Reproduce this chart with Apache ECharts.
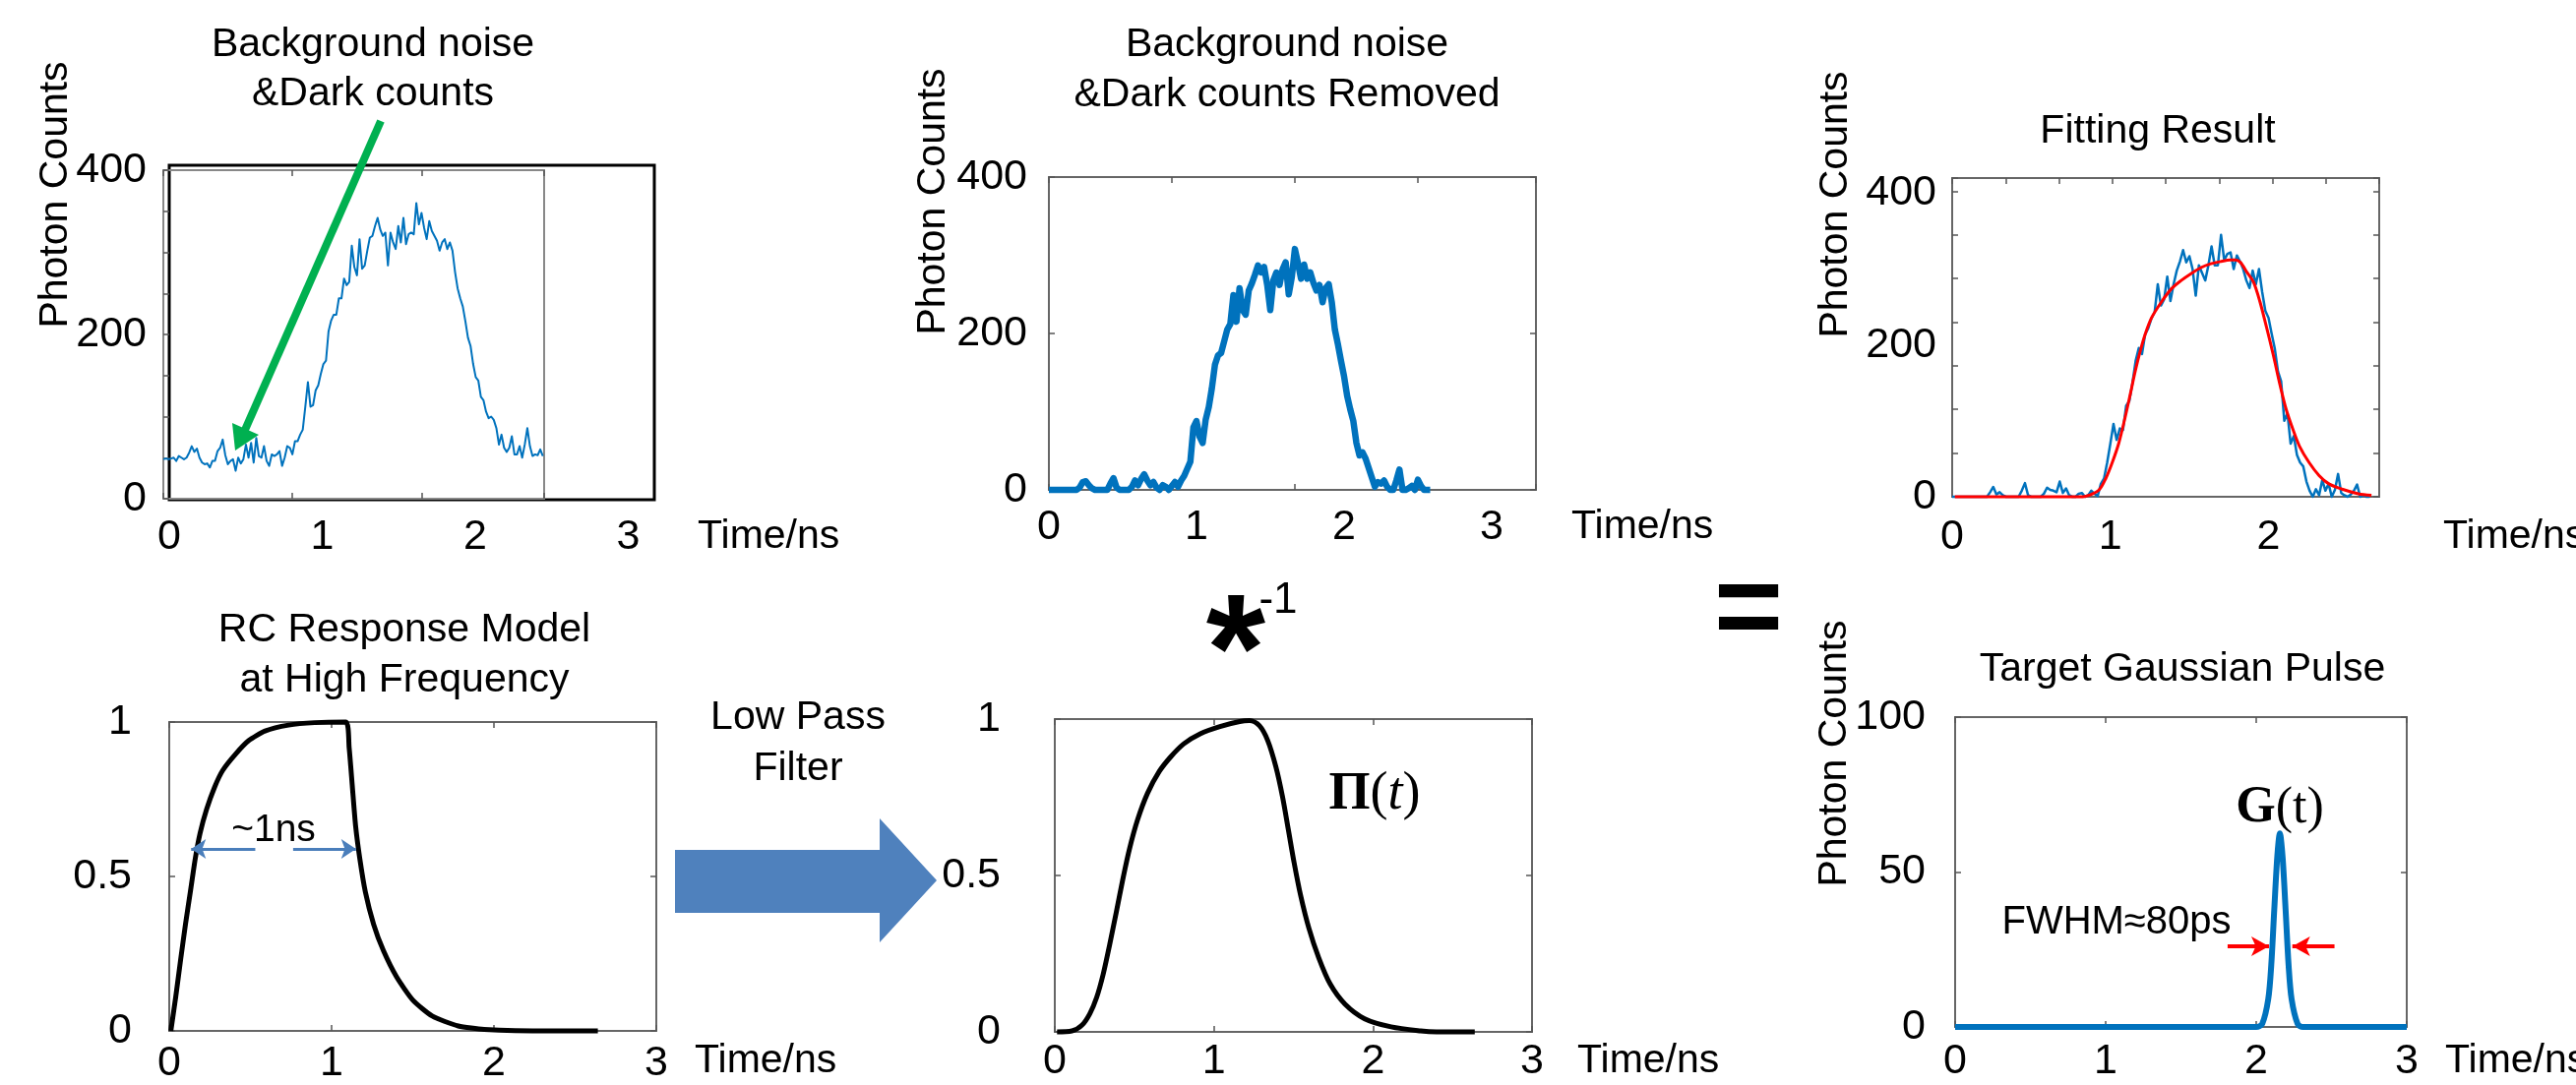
<!DOCTYPE html>
<html>
<head>
<meta charset="utf-8">
<title>Deconvolution of the SPAD photon histogram</title>
<script src="https://cdn.jsdelivr.net/npm/echarts@6/dist/echarts.min.js"></script>
<style>
  html, body { margin: 0; padding: 0; background: #fff; }
  #chart { width: 2618px; height: 1103px; }
</style>
</head>
<body>
<div id="chart"></div>
<script>
// ---------- values ----------
const timeTicks = [0, 1, 2, 3];

// top left: raw histogram with background, one sample every 0.02 ns
const rawStep = 0.02;
const rawCounts = [
  48, 49, 48, 49, 50, 46, 52, 50, 48, 50, 56, 64, 57, 61, 50, 44, 42, 43, 38, 46,
  46, 58, 62, 72, 53, 42, 46, 48, 34, 50, 43, 48, 66, 50, 68, 44, 74, 52, 50, 64,
  46, 40, 54, 52, 54, 58, 40, 50, 64, 62, 54, 70, 70, 78, 84, 112, 142, 112, 114, 132,
  138, 152, 164, 168, 204, 217, 224, 224, 244, 244, 268, 260, 264, 308, 282, 272, 316, 280, 284, 302,
  318, 320, 332, 342, 328, 320, 324, 284, 324, 312, 304, 332, 312, 342, 310, 322, 324, 322, 360, 334,
  348, 330, 316, 338, 326, 320, 314, 302, 312, 316, 304, 312, 302, 276, 256, 244, 234, 216, 196, 186,
  164, 148, 144, 124, 120, 106, 98, 100, 96, 86, 66, 78, 62, 57, 62, 76, 54, 54, 64, 50,
  66, 86, 64, 52, 54, 53, 60, 52
];

// top middle: background and dark counts removed, one sample every 0.025 ns
const cleanStep = 0.025;
const cleanCounts = [
  0, 0, 0, 0, 0, 0, 0, 0, 0, 0, 3, 10, 11, 6, 2, 0, 0, 0, 0, 0,
  8, 15, 3, 0, 0, 0, 0, 4, 12, 6, 14, 20, 12, 6, 10, 3, 0, 6, 4, 0,
  5, 10, 4, 12, 18, 27, 36, 80, 88, 68, 60, 90, 106, 130, 160, 172, 175, 190, 205, 212,
  249, 215, 258, 230, 224, 255, 264, 275, 287, 278, 285, 262, 230, 268, 278, 262, 282, 291, 250, 272,
  308, 290, 270, 288, 270, 278, 265, 255, 262, 240, 258, 263, 240, 205, 186, 165, 145, 120, 103, 88,
  60, 44, 48, 40, 28, 16, 4, 10, 8, 12, 4, 0, 0, 12, 26, 0, 0, 2, 5, 0,
  13, 5, 0, 0, 0
];

// top right: measured counts used for the fit, one sample every 0.02 ns
const fitStep = 0.02;
const fitCounts = [
  0, 0, 0, 0, 0, 0, 0, 0, 0, 0, 0, 0, 6, 13, 3, 6, 2, 0, 0, 0,
  0, 0, 8, 18, 2, 0, 0, 0, 0, 4, 12, 9, 8, 6, 20, 5, 11, 2, 0, 0,
  4, 5, 0, 2, 8, 4, 1, 17, 24, 45, 70, 96, 75, 90, 88, 120, 126, 150, 179, 196,
  188, 214, 222, 235, 243, 280, 252, 260, 290, 258, 280, 298, 310, 325, 309, 317, 300, 265, 305, 295,
  285, 305, 330, 305, 305, 345, 312, 320, 322, 300, 318, 310, 300, 285, 275, 298, 280, 300, 270, 245,
  236, 215, 195, 165, 152, 100, 110, 70, 80, 55, 45, 40, 20, 8, 0, 10, 2, 22, 8, 17,
  0, 9, 30, 5, 2, 0, 3, 8, 16, 0, 2, 0, 0
];

// top right: fitted curve [ns, counts]
const fitCurve = [
  [0.017, 0], [0.826, 0], [0.867, 2], [0.929, 9], [0.971, 24], [1.012, 45], [1.054, 71],
  [1.095, 106], [1.127, 136], [1.158, 166], [1.189, 192], [1.22, 214], [1.261, 236],
  [1.324, 257], [1.386, 274], [1.448, 285], [1.51, 294], [1.573, 302], [1.635, 307],
  [1.697, 310], [1.759, 312], [1.79, 312], [1.822, 309], [1.863, 296], [1.905, 283],
  [1.946, 257], [1.988, 223], [2.029, 188], [2.071, 149], [2.112, 115], [2.154, 89],
  [2.195, 67], [2.257, 45], [2.32, 28], [2.382, 17], [2.465, 10], [2.568, 4], [2.651, 2]
];

// bottom left: RC response model [ns, normalised]
const rcModel = [
  [0.01, 0], [0.04, 0.11], [0.07, 0.23], [0.10, 0.345], [0.13, 0.45], [0.16, 0.557],
  [0.19, 0.64], [0.23, 0.717], [0.28, 0.79], [0.33, 0.844], [0.41, 0.897], [0.49, 0.94],
  [0.59, 0.971], [0.735, 0.99], [0.896, 0.998], [1.088, 1.0], [1.108, 0.918], [1.128, 0.79],
  [1.148, 0.663], [1.174, 0.557], [1.208, 0.45], [1.259, 0.345], [1.319, 0.26], [1.40, 0.175],
  [1.50, 0.10], [1.62, 0.048], [1.78, 0.016], [1.94, 0.005], [2.35, 0], [2.64, 0]
];

// bottom middle: low-pass filtered model Pi(t) [ns, normalised]
const piPulse = [
  [0.014, 0], [0.108, 0.003], [0.17, 0.021], [0.22, 0.058], [0.263, 0.11], [0.304, 0.184],
  [0.345, 0.279], [0.387, 0.384], [0.428, 0.489], [0.469, 0.584], [0.521, 0.679], [0.583, 0.763],
  [0.656, 0.832], [0.728, 0.879], [0.811, 0.921], [0.914, 0.953], [1.038, 0.976], [1.162, 0.992],
  [1.224, 0.995], [1.286, 0.979], [1.338, 0.932], [1.39, 0.847], [1.431, 0.753], [1.468, 0.647],
  [1.504, 0.542], [1.545, 0.437], [1.597, 0.332], [1.659, 0.237], [1.731, 0.153], [1.824, 0.089],
  [1.948, 0.042], [2.114, 0.016], [2.30, 0.003], [2.40, 0], [2.64, 0]
];

// bottom right: target Gaussian pulse G(t) [ns, counts]
const gaussPulse = [
  [0, 0], [2.0, 0], [2.04, 1], [2.08, 9], [2.10, 20], [2.12, 38], [2.14, 55], [2.157, 62.5],
  [2.175, 55], [2.195, 38], [2.215, 20], [2.235, 9], [2.275, 1], [2.31, 0], [3, 0]
];

// ---------- helpers ----------
const FONT = '"Liberation Sans", Arial, sans-serif';
const SERIF = '"Liberation Serif", "DejaVu Serif", serif';
const BLUE = '#0072bd';

const tick = { show: true, inside: true, length: 6, lineStyle: { color: '#555', width: 1.5 } };
const lab = (margin, formatter) => ({
  show: true, margin, fontSize: 43, color: '#000', fontFamily: FONT, formatter
});
const intOnly = v => (timeTicks.includes(v) ? String(v) : '');
const every200 = v => (v % 200 === 0 ? String(v) : '');

function axis(gridIndex, position, min, max, interval, extra) {
  return Object.assign({
    type: 'value', gridIndex, position, min, max, interval,
    axisLine: { show: false, onZero: false },
    axisTick: { show: false },
    axisLabel: { show: false },
    splitLine: { show: false }
  }, extra || {});
}

function text(str, x, y, o) {
  o = o || {};
  const size = o.size || 41;
  return {
    type: 'text', x, y, rotation: o.rotation || 0, silent: true, z: 10,
    style: {
      text: str,
      fill: '#000',
      font: `${o.weight || 'normal'} ${size}px ${o.family || FONT}`,
      textAlign: o.align || 'center', align: o.align || 'center',
      textVerticalAlign: 'middle', verticalAlign: 'middle',
      rich: o.rich
    }
  };
}

const pairs = (vals, step) => vals.map((v, i) => [+(i * step).toFixed(3), v]);

// ---------- layout ----------
const box = { show: true, borderColor: '#666', borderWidth: 2, backgroundColor: 'transparent' };
const grid = [
  Object.assign({}, box, { left: 172, top: 168, width: 493, height: 340, borderColor: '#000', borderWidth: 3 }),
  Object.assign({}, box, { left: 166, top: 173, width: 387, height: 334, borderColor: '#888' }),
  Object.assign({}, box, { left: 1066, top: 180, width: 495, height: 318 }),
  Object.assign({}, box, { left: 1984, top: 181, width: 434, height: 324 }),
  Object.assign({}, box, { left: 172, top: 734, width: 495, height: 314 }),
  Object.assign({}, box, { left: 1072, top: 731, width: 485, height: 318 }),
  Object.assign({}, box, { left: 1987, top: 729, width: 459, height: 315 })
];

const xAxis = [
  axis(0, 'bottom', 0, 3.17, 1, { axisLabel: lab(17, intOnly) }),        // 0 TL labels
  axis(1, 'bottom', 0, 2.95, 1, { axisTick: tick }),                     // 1 TL data
  axis(1, 'top', 0, 2.95, 1, { axisTick: tick }),                        // 2
  axis(2, 'bottom', 0, 3.3, 1, { axisLabel: lab(17, intOnly) }),         // 3 TM labels
  axis(2, 'bottom', 0, 3.96, 1, { axisTick: tick }),                     // 4 TM data
  axis(2, 'top', 0, 3.96, 1, { axisTick: tick }),                        // 5
  axis(3, 'bottom', 0, 2.7, 1, { axisLabel: lab(20, intOnly) }),         // 6 TR data
  axis(3, 'top', 0, 8, 1, { axisTick: tick }),                           // 7
  axis(4, 'bottom', 0, 3, 1, { axisTick: tick, axisLabel: lab(12) }),    // 8 BL
  axis(4, 'top', 0, 3, 1, { axisTick: tick }),                           // 9
  axis(5, 'bottom', 0, 3, 1, { axisTick: tick, axisLabel: lab(9) }),     // 10 BM
  axis(5, 'top', 0, 3, 1, { axisTick: tick }),                           // 11
  axis(6, 'bottom', 0, 3, 1, { axisTick: tick, axisLabel: lab(14) }),    // 12 BR
  axis(6, 'top', 0, 3, 1, { axisTick: tick })                            // 13
];

const yAxis = [
  axis(0, 'left', 0, 1, 1),                                                    // 0 TL frame
  axis(1, 'left', 0, 400, 50, { axisTick: tick, axisLabel: lab(17, every200) }), // 1 TL data
  axis(2, 'left', 0, 400, 200, { axisTick: tick, axisLabel: lab(22) }),        // 2 TM
  axis(2, 'right', 0, 400, 200, { axisTick: tick }),                           // 3
  axis(3, 'left', 0, 420, 200, { axisLabel: lab(16, every200) }),              // 4 TR data
  axis(3, 'left', 0, 7.3, 1, { axisTick: tick }),                              // 5
  axis(3, 'right', 0, 7.3, 1, { axisTick: tick }),                             // 6
  axis(4, 'left', 0, 1, 0.5, { axisTick: tick, axisLabel: lab(38) }),          // 7 BL
  axis(4, 'right', 0, 1, 0.5, { axisTick: tick }),                             // 8
  axis(5, 'left', 0, 1, 0.5, { axisTick: tick, axisLabel: lab(55) }),          // 9 BM
  axis(5, 'right', 0, 1, 0.5, { axisTick: tick }),                             // 10
  axis(6, 'left', 0, 100, 50, { axisTick: tick, axisLabel: lab(30) }),         // 11 BR
  axis(6, 'right', 0, 100, 50, { axisTick: tick })                             // 12
];

const line = (data, xi, yi, color, width, extra) => Object.assign({
  type: 'line', data, xAxisIndex: xi, yAxisIndex: yi,
  showSymbol: false, symbol: 'none', clip: false, silent: true,
  lineStyle: { color, width, join: 'round' }
}, extra || {});

const series = [
  line(pairs(rawCounts, rawStep), 1, 1, BLUE, 2),
  line(pairs(cleanCounts, cleanStep), 4, 2, BLUE, 6.5),
  line(pairs(fitCounts, fitStep), 6, 4, BLUE, 2.5),
  line(fitCurve, 6, 4, '#ff0000', 3, { smooth: 0.3 }),
  line(rcModel, 8, 7, '#000', 5, {
    smooth: 0.2,
    markLine: {
      silent: true, symbol: ['none', 'arrow'], symbolSize: [15, 15],
      label: { show: false },
      lineStyle: { color: '#4a7ebb', width: 3, type: 'solid' },
      data: [
        [{ coord: [0.53, 0.589] }, { coord: [0.135, 0.589] }],
        [{ coord: [0.763, 0.589] }, { coord: [1.15, 0.589] }]
      ]
    }
  }),
  line(piPulse, 10, 9, '#000', 5, { smooth: 0.3 }),
  line(gaussPulse, 12, 11, BLUE, 6, {
    smooth: 0.3,
    markLine: {
      silent: true, symbol: ['none', 'arrow'], symbolSize: [15, 18],
      label: { show: false },
      lineStyle: { color: '#ff0000', width: 4, type: 'solid' },
      data: [
        [{ coord: [1.81, 26] }, { coord: [2.085, 26] }],
        [{ coord: [2.52, 26] }, { coord: [2.24, 26] }]
      ]
    }
  })
];

// ---------- annotations ----------
const graphic = [
  // titles
  text('Background noise', 379, 46),
  text('&Dark counts', 379, 96),
  text('Background noise', 1308, 46),
  text('&Dark counts Removed', 1308, 97),
  text('Fitting Result', 2193, 134),
  text('RC Response Model', 411, 641),
  text('at High Frequency', 411, 692),
  text('Target Gaussian Pulse', 2218, 681),
  // axis names
  text('Photon Counts', 57, 198, { rotation: Math.PI / 2 }),
  text('Photon Counts', 949, 205, { rotation: Math.PI / 2 }),
  text('Photon Counts', 1866, 208, { rotation: Math.PI / 2 }),
  text('Photon Counts', 1865, 766, { rotation: Math.PI / 2 }),
  text('Time/ns', 709, 546, { align: 'left' }),
  text('Time/ns', 1597, 536, { align: 'left' }),
  text('Time/ns', 2483, 546, { align: 'left' }),
  text('Time/ns', 706, 1079, { align: 'left' }),
  text('Time/ns', 1603, 1079, { align: 'left' }),
  text('Time/ns', 2485, 1079, { align: 'left' }),
  // in-plot notes
  text('~1ns', 278, 844, { size: 39 }),
  text('FWHM\u224880ps', 2151, 938, { size: 40 }),
  text('{b|\u03a0}{n|(}{i|t}{n|)}', 1397, 808, {
    rich: {
      b: { fontFamily: SERIF, fontWeight: 'bold', fontSize: 54, fill: '#000' },
      n: { fontFamily: SERIF, fontSize: 54, fill: '#000' },
      i: { fontFamily: SERIF, fontStyle: 'italic', fontSize: 54, fill: '#000' }
    }
  }),
  text('{b|G}{n|(t)}', 2317, 822, {
    rich: {
      b: { fontFamily: SERIF, fontWeight: 'bold', fontSize: 52, fill: '#000' },
      n: { fontFamily: SERIF, fontSize: 52, fill: '#000' }
    }
  }),
  // operators
  text('Low Pass', 811, 730),
  text('Filter', 811, 782),
  text('*', 1256, 669, { size: 155, weight: 'bold' }),
  text('-1', 1299, 611, { size: 44 }),
  text('=', 1777, 624, { size: 120, weight: 'bold' }),
  // big low pass arrow
  {
    type: 'polygon', silent: true, z: 5,
    shape: { points: [[686, 864], [894, 864], [894, 832], [952, 895], [894, 958], [894, 928], [686, 928]] },
    style: { fill: '#4f81bd' }
  },
  // green pointer to the background level
  {
    type: 'polyline', silent: true, z: 5,
    shape: { points: [[387, 123], [249, 437]] },
    style: { stroke: '#00b050', lineWidth: 8, fill: null }
  },
  {
    type: 'polygon', silent: true, z: 5,
    shape: { points: [[239, 458], [236, 430], [263, 442]] },
    style: { fill: '#00b050' }
  }
];

const chart = echarts.init(document.getElementById('chart'));
chart.setOption({
  animation: false,
  backgroundColor: '#fff',
  textStyle: { fontFamily: FONT },
  grid, xAxis, yAxis, series, graphic
});
window.addEventListener('resize', () => chart.resize());
</script>
</body>
</html>
